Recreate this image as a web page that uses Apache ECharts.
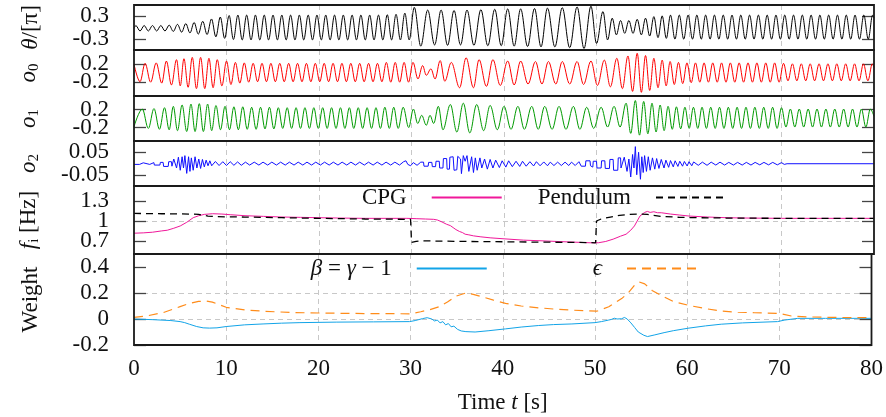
<!DOCTYPE html>
<html><head><meta charset="utf-8">
<script src="https://cdn.jsdelivr.net/npm/echarts@6/dist/echarts.min.js"></script>
<style>html,body{margin:0;padding:0;background:#fff}#c{width:886px;height:417px}</style>
</head><body><div id="c"></div>
<script>
// ---------------- DATA ----------------
const timeTicks = [0,10,20,30,40,50,60,70,80];
const thetaTicks = [-0.3, 0.3];
const o0Ticks = [-0.2, 0.2];
const o1Ticks = [-0.2, 0.2];
const o2Ticks = [-0.05, 0.05];
const freqTicks = [0.7, 1, 1.3];
const weightTicks = [-0.2, 0, 0.2, 0.4];

// theta/[pi] extrema  [t, value]
const theta = [[0,-0.02],[0.2,0.05],[0.65,-0.09],[1.1,0.05],[1.55,-0.09],[2.0,0.05],[2.45,-0.09],[2.9,0.05],[3.35,-0.09],[3.8,0.06],[4.25,-0.1],[4.7,0.08],[5.15,-0.12],[5.6,0.1],[6.05,-0.14],[6.5,0.13],[6.95,-0.17],
[7.43,0.16],[7.9,-0.18],[8.38,0.22],[8.85,-0.24],[9.33,0.27],[9.8,-0.28],[10.28,0.31],[10.75,-0.31],
[11.23,0.32],[11.7,-0.32],[12.18,0.32],[12.65,-0.32],[13.13,0.32],[13.6,-0.32],[14.08,0.32],[14.55,-0.32],[15.03,0.32],[15.5,-0.32],[15.98,0.32],[16.45,-0.32],[16.93,0.32],[17.4,-0.32],[17.88,0.32],[18.35,-0.32],[18.83,0.32],[19.3,-0.32],[19.78,0.32],[20.25,-0.32],[20.73,0.32],[21.2,-0.32],[21.68,0.32],[22.15,-0.32],[22.63,0.32],[23.1,-0.32],[23.58,0.32],[24.05,-0.32],[24.53,0.32],[25.0,-0.32],[25.48,0.32],[25.95,-0.32],[26.43,0.32],[26.9,-0.32],[27.38,0.33],[27.85,-0.32],
[28.33,0.34],[28.8,-0.32],[29.28,0.37],[29.75,-0.32],
[30.3,0.52],[31.0,-0.48],[31.75,0.45],[32.5,-0.45],[33.2,0.45],[33.9,-0.46],[34.6,0.44],[35.3,-0.45],[36.0,0.45],[36.75,-0.46],[37.5,0.46],[38.25,-0.47],[39.0,0.47],[39.7,-0.47],[40.4,0.48],[41.1,-0.48],[41.8,0.48],[42.55,-0.49],[43.3,0.49],[44.0,-0.5],[44.7,0.5],[45.5,-0.5],[46.3,0.51],[47.1,-0.52],[47.9,0.53],[48.65,-0.54],[49.4,0.55],
[50.0,-0.41],[50.7,0.41],[51.2,-0.32],[51.7,0.24],[52.15,-0.19],[52.6,0.18],[53.05,-0.15],[53.5,0.18],[53.95,-0.15],[54.4,0.21],[54.85,-0.19],[55.3,0.24],[55.75,-0.22],[56.2,0.28],[56.65,-0.26],[57.1,0.3],[57.55,-0.28],[58.0,0.32],
[58.48,-0.3],[58.95,0.32],[59.43,-0.3],[59.9,0.32],[60.38,-0.3],[60.85,0.32],[61.33,-0.3],[61.8,0.32],[62.28,-0.3],[62.75,0.32],[63.23,-0.3],[63.7,0.32],[64.18,-0.3],[64.65,0.32],[65.13,-0.3],[65.6,0.32],[66.08,-0.3],[66.55,0.32],[67.03,-0.3],[67.5,0.32],[67.98,-0.3],[68.45,0.32],[68.93,-0.3],[69.4,0.32],[69.88,-0.3],[70.35,0.32],[70.83,-0.3],[71.3,0.32],[71.78,-0.3],[72.25,0.32],[72.73,-0.3],[73.2,0.32],[73.68,-0.3],[74.15,0.32],[74.63,-0.3],[75.1,0.32],[75.58,-0.3],[76.05,0.32],[76.53,-0.3],[77.0,0.32],[77.48,-0.3],[77.95,0.32],[78.43,-0.3],[78.9,0.32],[79.38,-0.3],[79.85,0.32],[80,0.25]];

// CPG output o0 extrema
const o0 = [[0,0.19],[0.65,-0.19],[1.2,0.21],[1.8,-0.2],[2.4,0.22],[3.0,-0.22],[3.5,0.26],[4.05,-0.26],[4.6,0.29],[5.0,-0.28],[5.4,0.31],[5.85,-0.31],[6.3,0.34],[6.75,-0.34],[7.2,0.34],[7.65,-0.34],[8.1,0.32],[8.55,-0.32],[9.0,0.29],[9.5,-0.28],[10.0,0.26],[10.48,-0.25],[10.96,0.23],[11.44,-0.22],[11.92,0.22],[12.4,-0.2],[12.88,0.21],[13.36,-0.19],[13.84,0.21],[14.32,-0.19],[14.8,0.21],[15.28,-0.19],[15.76,0.21],[16.24,-0.19],[16.72,0.21],[17.2,-0.19],[17.68,0.21],[18.16,-0.19],[18.64,0.21],[19.12,-0.19],[19.6,0.21],[20.08,-0.19],[20.56,0.21],[21.04,-0.19],[21.52,0.21],[22.0,-0.19],[22.48,0.21],[22.96,-0.19],[23.44,0.21],[23.92,-0.19],[24.4,0.21],[24.88,-0.19],[25.36,0.21],[25.84,-0.19],[26.32,0.21],[26.8,-0.19],[27.28,0.23],[27.76,-0.2],[28.24,0.23],[28.72,-0.2],[29.2,0.23],[29.68,-0.2],[30.16,0.23],[30.7,-0.13],[31.2,0.16],[31.6,-0.05],[32.1,0.09],[32.55,-0.13],[33.1,0.27],[33.6,-0.18],[34.3,0.23],[35.2,-0.32],[35.9,0.33],[36.7,-0.32],[37.3,0.29],[38.1,-0.29],[38.8,0.29],[39.6,-0.27],[40.4,0.26],[41.1,-0.26],[41.8,0.26],[42.6,-0.24],[43.4,0.25],[44.1,-0.24],[44.8,0.25],[45.6,-0.24],[46.3,0.25],[47.1,-0.24],[47.9,0.25],[48.6,-0.25],[49.4,0.26],[50.1,-0.27],[50.85,0.28],[51.5,-0.3],[52.2,0.32],[52.8,-0.34],[53.4,0.37],[53.9,-0.4],[54.4,0.43],[54.85,-0.42],[55.3,0.38],[55.75,-0.38],[56.2,0.32],[56.65,-0.32],[57.1,0.28],[57.53,-0.28],[57.96,0.25],[58.41,-0.25],[58.86,0.23],[59.32,-0.23],[59.78,0.22],[60.24,-0.21],[60.7,0.22],[61.17,-0.2],[61.63,0.22],[62.1,-0.2],[62.57,0.22],[63.05,-0.2],[63.52,0.22],[64.0,-0.2],[64.47,0.22],[64.95,-0.2],[65.42,0.22],[65.9,-0.2],[66.38,0.22],[66.86,-0.2],[67.34,0.22],[67.82,-0.2],[68.3,0.22],[68.78,-0.2],[69.26,0.22],[69.74,-0.2],[70.22,0.21],[70.7,-0.17],[71.18,0.2],[71.66,-0.17],[72.14,0.2],[72.62,-0.17],[73.1,0.2],[73.58,-0.17],[74.06,0.2],[74.54,-0.17],[75.02,0.2],[75.5,-0.17],[75.98,0.2],[76.46,-0.17],[76.94,0.2],[77.42,-0.17],[77.9,0.2],[78.38,-0.17],[78.86,0.2],[79.34,-0.17],[79.82,0.2],[80,0.12]];

// CPG output o1 extrema
const o1 = [[0,-0.18],[0.9,0.21],[1.55,-0.22],[2.16,0.22],[2.75,-0.24],[3.3,0.24],[3.8,-0.25],[4.25,0.27],[4.7,-0.27],[5.2,0.3],[5.7,-0.29],[6.16,0.32],[6.6,-0.29],[7.06,0.33],[7.5,-0.29],[7.96,0.32],[8.4,-0.27],[8.86,0.29],[9.35,-0.25],[9.84,0.27],[10.32,-0.25],[10.8,0.26],[11.28,-0.25],[11.76,0.26],[12.24,-0.24],[12.72,0.25],[13.2,-0.24],[13.68,0.25],[14.16,-0.23],[14.64,0.25],[15.12,-0.23],[15.6,0.24],[16.08,-0.22],[16.56,0.24],[17.04,-0.22],[17.52,0.24],[18.0,-0.22],[18.48,0.24],[18.96,-0.22],[19.44,0.24],[19.92,-0.22],[20.4,0.24],[20.88,-0.22],[21.36,0.24],[21.84,-0.22],[22.32,0.24],[22.8,-0.22],[23.28,0.24],[23.76,-0.22],[24.24,0.24],[24.72,-0.22],[25.2,0.24],[25.68,-0.22],[26.16,0.24],[26.64,-0.22],[27.12,0.25],[27.6,-0.22],[28.08,0.25],[28.56,-0.22],[29.1,0.25],[29.7,-0.2],[30.2,0.21],[30.67,-0.11],[31.1,0.07],[31.6,-0.15],[32.0,0.07],[32.4,-0.11],[32.9,0.27],[33.4,-0.25],[34.2,0.31],[34.9,-0.3],[35.6,0.34],[36.3,-0.32],[37.05,0.31],[37.8,-0.27],[38.5,0.29],[39.28,-0.25],[40.0,0.27],[40.76,-0.24],[41.5,0.27],[42.2,-0.24],[43.0,0.27],[43.7,-0.24],[44.4,0.27],[45.2,-0.24],[45.95,0.27],[46.7,-0.24],[47.5,0.27],[48.2,-0.24],[48.94,0.25],[49.7,-0.22],[50.5,0.25],[51.2,-0.19],[51.9,0.27],[52.55,-0.19],[53.2,0.34],[53.7,-0.33],[54.2,0.4],[54.65,-0.37],[55.1,0.38],[55.55,-0.34],[56.0,0.34],[56.44,-0.3],[56.88,0.3],[57.31,-0.27],[57.74,0.27],[58.19,-0.24],[58.64,0.26],[59.1,-0.23],[59.56,0.25],[60.02,-0.22],[60.48,0.25],[60.95,-0.22],[61.41,0.25],[61.88,-0.22],[62.35,0.25],[62.83,-0.22],[63.3,0.25],[63.78,-0.22],[64.25,0.25],[64.73,-0.22],[65.2,0.25],[65.68,-0.22],[66.16,0.25],[66.64,-0.22],[67.12,0.25],[67.6,-0.22],[68.08,0.25],[68.56,-0.22],[69.04,0.25],[69.52,-0.22],[70.0,0.24],[70.48,-0.19],[70.96,0.21],[71.44,-0.19],[71.92,0.21],[72.4,-0.19],[72.88,0.21],[73.36,-0.19],[73.84,0.21],[74.32,-0.19],[74.8,0.21],[75.28,-0.19],[75.76,0.21],[76.24,-0.19],[76.72,0.21],[77.2,-0.19],[77.68,0.21],[78.16,-0.19],[78.64,0.21],[79.12,-0.19],[79.6,0.21],[80,0.05]];

// CPG output o2 (step-like)
const o2 = [[0,-0.004],[0.6,-0.004],[0.65,0.003],[1.0,0.003],[1.05,-0.004],[1.7,-0.004],[1.75,0.004],[2.15,0.004],[2.2,-0.007],[2.8,-0.007],[2.85,0.005],[3.15,0.005],[3.2,-0.013],[3.7,-0.013],[3.75,0.008],[4.05,0.008],[4.1,-0.012],[4.3,0.02],[4.45,0.015],[4.6,-0.02],[4.8,0.028],[5.0,-0.03],[5.2,0.03],[5.35,-0.02],[5.5,0.035],[5.7,-0.044],[5.9,0.03],[6.05,-0.035],[6.2,0.025],[6.4,-0.03],[6.6,0.03],[6.8,-0.02],[7.0,0.02],[7.2,-0.022],[7.4,0.018],[7.6,-0.015],[7.8,0.015],[8.0,-0.01],[8.2,0.012],
[8.4,-0.01],[8.8,0.009],[9.2,-0.009],[9.6,0.008],[10.0,-0.009],[10.4,0.008],[10.8,-0.008],[11.2,0.007],[11.6,-0.008],[12.05,0.006],[12.5,-0.007],[13.0,0.006],[13.5,-0.007],[13.95,0.006],[14.45,-0.007],[14.9,0.006],[15.4,-0.007],[15.85,0.006],[16.35,-0.007],[16.8,0.006],[17.3,-0.007],[17.75,0.006],[18.25,-0.007],[18.7,0.006],[19.2,-0.007],[19.65,0.006],[20.15,-0.007],[20.6,0.006],[21.1,-0.007],[21.55,0.006],[22.05,-0.007],[22.5,0.006],[23.0,-0.007],[23.45,0.006],[23.95,-0.007],[24.4,0.006],[24.9,-0.007],[25.35,0.006],[25.85,-0.007],[26.3,0.006],[26.8,-0.007],[27.25,0.006],[27.75,-0.007],[28.2,0.006],[28.7,-0.007],[29.15,0.008],[29.4,0.012],[29.6,-0.004],[29.9,-0.01],[30.2,0.004],[30.6,-0.008],[31.0,0.006],[31.3,0.006],[31.35,-0.012],[31.8,-0.012],[31.85,0.005],[32.2,0.005],[32.25,-0.014],[32.6,-0.014],[32.65,0.01],[33.0,0.01],[33.05,-0.02],[33.4,-0.02],[33.45,0.022],[33.8,0.022],[33.85,-0.025],[34.1,-0.025],[34.15,0.028],[34.5,0.03],[34.6,-0.03],[34.9,-0.028],[35.0,0.032],[35.3,0.02],[35.4,-0.045],[35.6,0.035],[35.8,0.01],[36.0,0.035],[36.2,-0.035],[36.5,0.03],[36.7,-0.04],[36.9,0.025],[37.1,-0.03],[37.4,0.025],[37.6,-0.02],[37.9,0.02],[38.2,-0.025],[38.5,0.018],[38.8,-0.02],[39.1,0.015],[39.5,-0.018],[39.8,0.012],[40.2,-0.016],[40.5,0.012],[40.9,-0.014],[41.3,0.01],[41.7,-0.013],[42.0,0.01],[42.4,-0.012],[42.8,0.008],[43.2,-0.011],[43.5,0.008],[43.9,-0.01],[44.3,0.007],[44.7,-0.01],[45.0,0.006],[45.4,-0.009],[45.8,0.006],[46.2,-0.009],[46.6,0.006],[47.0,-0.009],[47.3,0.006],[47.7,-0.009],[48.1,0.008],[48.3,0.008],[48.35,-0.012],[48.8,-0.012],[48.85,0.012],[49.3,0.012],[49.35,-0.01],[49.6,-0.016],[49.65,0.01],[50.0,0.01],[50.05,-0.02],[50.5,-0.02],[50.55,0.012],[50.9,0.012],[50.95,-0.022],[51.4,-0.022],[51.45,0.018],[51.8,0.018],[51.85,-0.03],[52.3,-0.03],[52.35,0.025],[52.6,0.025],[52.65,-0.02],[53.0,0.028],[53.3,-0.035],[53.5,0.02],[53.7,-0.06],[53.9,0.04],[54.05,-0.02],[54.2,0.075],[54.35,-0.05],[54.55,0.05],[54.75,-0.07],[54.9,0.03],[55.05,-0.04],[55.2,0.035],[55.4,-0.035],[55.6,0.03],[55.8,-0.03],[56.05,0.025],[56.3,-0.025],[56.5,0.022],[56.75,-0.022],[57.0,0.018],[57.3,-0.02],[57.5,0.015],[57.8,-0.017],[58.0,0.013],[58.3,-0.015],[58.5,0.012],[58.8,-0.013],[59.0,0.01],[59.3,-0.012],[59.5,0.009],[59.8,-0.011],[60.0,0.008],[60.3,-0.01],[60.5,0.007],[61.0,-0.008],[61.45,0.006],[61.95,-0.008],[62.4,0.006],[62.9,-0.007],[63.35,0.006],[63.85,-0.007],[64.3,0.005],[64.8,-0.007],[65.25,0.005],[65.75,-0.007],[66.2,0.005],[66.7,-0.007],[67.15,0.005],[67.65,-0.006],[68.1,0.005],[68.6,-0.006],[69.05,0.005],[69.55,-0.006],[70.0,0.004],[70.3,-0.004],[70.6,-0.001],[80,-0.001]];

// frequencies [Hz]
const cpgFreq = [[0,0.815],[1,0.82],[2,0.83],[3,0.85],[3.6,0.86],[4.3,0.89],[5,0.925],[5.7,0.98],[6.4,1.05],[7,1.08],[7.6,1.1],[8.5,1.11],[9.5,1.105],[10.4,1.095],[12,1.08],[14,1.07],[16,1.06],[18,1.055],[20,1.05],[22,1.045],[25,1.04],[29.5,1.04],[30.5,1.035],[31.5,1.03],[32.4,1.025],[32.8,1.015],[33.3,0.985],[33.8,0.95],[34.2,0.93],[34.5,0.9],[34.8,0.87],[35.2,0.84],[35.5,0.825],[35.8,0.8],[36.2,0.79],[36.7,0.775],[37.5,0.76],[38.5,0.745],[40,0.73],[42.1,0.71],[44,0.7],[45.7,0.69],[47.5,0.68],[49.3,0.67],[50.2,0.67],[51,0.69],[51.8,0.725],[52.6,0.77],[53.2,0.8],[53.7,0.86],[54.1,0.925],[54.4,1.0],[54.7,1.075],[55.2,1.13],[55.5,1.145],[55.8,1.13],[56.2,1.14],[56.6,1.125],[57,1.125],[58,1.105],[59,1.09],[60,1.075],[62,1.06],[64,1.05],[66,1.045],[70,1.04],[80,1.04]];
const pendFreq = [[0,1.115],[3,1.11],[6,1.105],[7,1.1],[8,1.075],[9,1.065],[12,1.06],[16,1.05],[20,1.04],[25,1.03],[29.9,1.025],[30,0.675],[30.5,0.69],[31,0.7],[33,0.695],[36,0.69],[40,0.685],[44,0.68],[48,0.675],[49.9,0.67],[50,1.0],[50.5,1.03],[51.5,1.06],[52.5,1.085],[53.5,1.1],[54.5,1.105],[55.5,1.1],[57,1.07],[59,1.055],[61,1.05],[64,1.045],[70,1.04],[80,1.04]];

// weights
const beta = [[0,0],[2,-0.005],[4,-0.012],[5,-0.02],[5.5,-0.028],[6,-0.04],[6.8,-0.058],[7.5,-0.068],[8.2,-0.07],[9,-0.068],[10,-0.058],[12,-0.045],[14,-0.038],[16,-0.032],[18,-0.028],[22,-0.024],[26,-0.022],[29.9,-0.02],[30.5,-0.012],[31.3,0.003],[31.8,0.01],[32.3,0.0],[32.6,-0.015],[32.9,-0.008],[33.2,-0.03],[33.5,-0.02],[33.8,-0.045],[34.1,-0.035],[34.4,-0.06],[34.7,-0.055],[35.1,-0.08],[35.5,-0.092],[36.0,-0.097],[37,-0.1],[38.5,-0.09],[40.3,-0.076],[42,-0.062],[43.9,-0.05],[45.5,-0.043],[47.5,-0.038],[50.0,-0.028],[50.7,-0.02],[51.5,-0.008],[51.8,-0.003],[52.1,0.006],[52.4,0.0],[52.6,0.013],[52.9,0.002],[53.2,0.012],[53.5,0.0],[53.7,0.006],[53.9,-0.03],[54.1,-0.02],[54.3,-0.065],[54.5,-0.055],[54.7,-0.1],[54.9,-0.09],[55.3,-0.125],[55.7,-0.135],[56.5,-0.122],[57.5,-0.105],[58.5,-0.09],[60.1,-0.071],[62,-0.053],[63.7,-0.04],[66,-0.03],[69.8,-0.02],[70.6,-0.008],[72.0,0.005],[75,0.005],[80,0.005]];
const eps = [[0,0.012],[1.5,0.025],[3.2,0.05],[5,0.095],[6,0.12],[7,0.135],[7.8,0.138],[8.5,0.13],[10,0.09],[12,0.07],[14,0.06],[17,0.05],[21,0.045],[25,0.042],[30,0.04],[31.1,0.056],[32,0.07],[33.1,0.094],[34,0.13],[34.9,0.175],[36.0,0.2],[36.8,0.19],[37.8,0.17],[39,0.145],[40.3,0.12],[42,0.1],[43.9,0.086],[45.5,0.077],[47.5,0.068],[50.2,0.06],[51.5,0.094],[52.9,0.157],[53.6,0.2],[54.3,0.26],[54.8,0.285],[55.4,0.27],[56.2,0.22],[57.2,0.18],[58.5,0.135],[60.1,0.106],[62,0.08],[63.7,0.061],[65.5,0.052],[67.3,0.048],[70.0,0.043],[71.3,0.023],[73,0.016],[76,0.012],[80,0.01]];

// ---------------- CHART ----------------
const SERIF = "'Liberation Serif','Times New Roman',serif";
const TXT = '#111';
const FS = 23;
const gridBox = [[5,45],[50,46],[96,45],[141,45],[186,68],[254,91]];
const yRanges = [[-0.58,0.58],[-0.5,0.5],[-0.5,0.5],[-0.1,0.1],[0.5,1.53],[-0.2,0.5]];
const yTicks = [thetaTicks,o0Ticks,o1Ticks,o2Ticks,freqTicks,weightTicks];
const yNames = ['{it|θ}{n|/[π]}','{it|o}{sub|0}','{it|o}{sub|1}','{it|o}{sub|2}','{it|f}{sub|i}{n| [Hz]}','{n|Weight}'];
const rich = {
  n:{fontFamily:SERIF,fontSize:FS,color:TXT},
  it:{fontFamily:SERIF,fontSize:FS,fontStyle:'italic',color:TXT},
  sub:{fontFamily:SERIF,fontSize:15,color:TXT,padding:[11,0,0,0]}
};
const dashed = {type:[5,4],color:'#c8c8c8',width:1};
const labelStyle = {fontFamily:SERIF,fontSize:FS,color:TXT,margin:25,showMinLabel:true,showMaxLabel:true,hideOverlap:false};
// alternate tick labels go to two overlaid left axes so no label is dropped for overlap
const evenOf = a => a.filter((_,k)=>k%2===0);
const oddOf = a => a.filter((_,k)=>k%2===1);

const grids = gridBox.map(b => ({left:134,right:12,top:b[0],height:b[1],show:true,borderColor:'#1a1a1a',borderWidth:1.8,z:5}));
const xAxes = gridBox.map((b,i) => ({
  type:'value',gridIndex:i,min:0,max:80,interval:10,
  axisLine:{show:false},axisTick:{show:false},
  axisLabel:{show:i===5,fontFamily:SERIF,fontSize:FS,color:TXT,margin:12,customValues:timeTicks,showMinLabel:true,showMaxLabel:true},
  splitLine:{show:true,lineStyle:dashed,showMinLine:false,showMaxLine:false},
  name:i===5?'{n|Time }{it|t}{n| [s]}':'',nameLocation:'middle',nameGap:46,
  nameTextStyle:{rich}
}));
const yLeft = yRanges.map((r,i) => ({
  type:'value',gridIndex:i,min:r[0],max:r[1],position:'left',
  axisLine:{show:false},
  axisTick:{show:true,inside:true,length:12,customValues:yTicks[i],lineStyle:{color:'#444',width:1.3}},
  axisLabel:Object.assign({customValues:evenOf(yTicks[i])},labelStyle),
  splitLine:{show:true,lineStyle:dashed,showMinLine:false,showMaxLine:false},
  name:yNames[i],nameLocation:'middle',nameRotate:90,nameGap:92,
  nameTextStyle:{rich}
}));
const yRight = yRanges.map((r,i) => ({
  type:'value',gridIndex:i,min:r[0],max:r[1],position:'right',
  axisLine:{show:false},
  axisTick:{show:true,inside:true,length:12,customValues:yTicks[i],lineStyle:{color:'#444',width:1.3}},
  axisLabel:{show:false},splitLine:{show:false}
}));
const yLeftB = yRanges.map((r,i) => ({
  type:'value',gridIndex:i,min:r[0],max:r[1],position:'left',offset:0,
  axisLine:{show:false},axisTick:{show:false},splitLine:{show:false},
  axisLabel:Object.assign({show:oddOf(yTicks[i]).length>0,customValues:oddOf(yTicks[i])},labelStyle)
}));

function ser(name,data,gi,color,opts){
  return Object.assign({type:'line',name,data,xAxisIndex:gi,yAxisIndex:gi,symbol:'none',silent:true,
    lineStyle:{color,width:1},itemStyle:{color}},opts||{});
}
const osc = {smooth:0.36,smoothMonotone:'x'};

const chart = echarts.init(document.getElementById('c'),null,{renderer:'canvas'});
chart.setOption({
  animation:false,
  backgroundColor:'#fff',
  grid:grids,
  xAxis:xAxes,
  yAxis:yLeft.concat(yRight,yLeftB),
  legend:[
    {data:['CPG','Pendulum'],right:159,top:186,align:'right',orient:'horizontal',padding:0,
     itemWidth:70,itemHeight:12,itemGap:35,selectedMode:false,itemStyle:{opacity:0},
     textStyle:{fontFamily:SERIF,fontSize:FS,color:TXT,padding:[0,20,0,0]}},
    {data:['β = γ − 1','ϵ'],right:188,top:257,align:'right',orient:'horizontal',padding:0,
     itemWidth:70,itemHeight:12,itemGap:105,selectedMode:false,itemStyle:{opacity:0},
     formatter:n => n==='ϵ' ? '{it|ϵ}' : '{it|β}{n| = }{it|γ}{n| − 1}',
     textStyle:{fontFamily:SERIF,fontSize:FS,color:TXT,padding:[0,20,0,0],rich}}
  ],
  series:[
    ser('theta',theta,0,'#000000',osc),
    ser('o0',o0,1,'#ff0000',osc),
    ser('o1',o1,2,'#009a00',osc),
    ser('o2',o2,3,'#1010ff'),
    ser('CPG',cpgFreq,4,'#f0189a'),
    ser('Pendulum',pendFreq,4,'#000000',{lineStyle:{color:'#000',width:1.3,type:[7,5]}}),
    ser('β = γ − 1',beta,5,'#12a4e8'),
    ser('ϵ',eps,5,'#ff8c1a',{lineStyle:{color:'#ff8c1a',width:1.2,type:[9,6]}})
  ]
});
</script>
</body></html>
